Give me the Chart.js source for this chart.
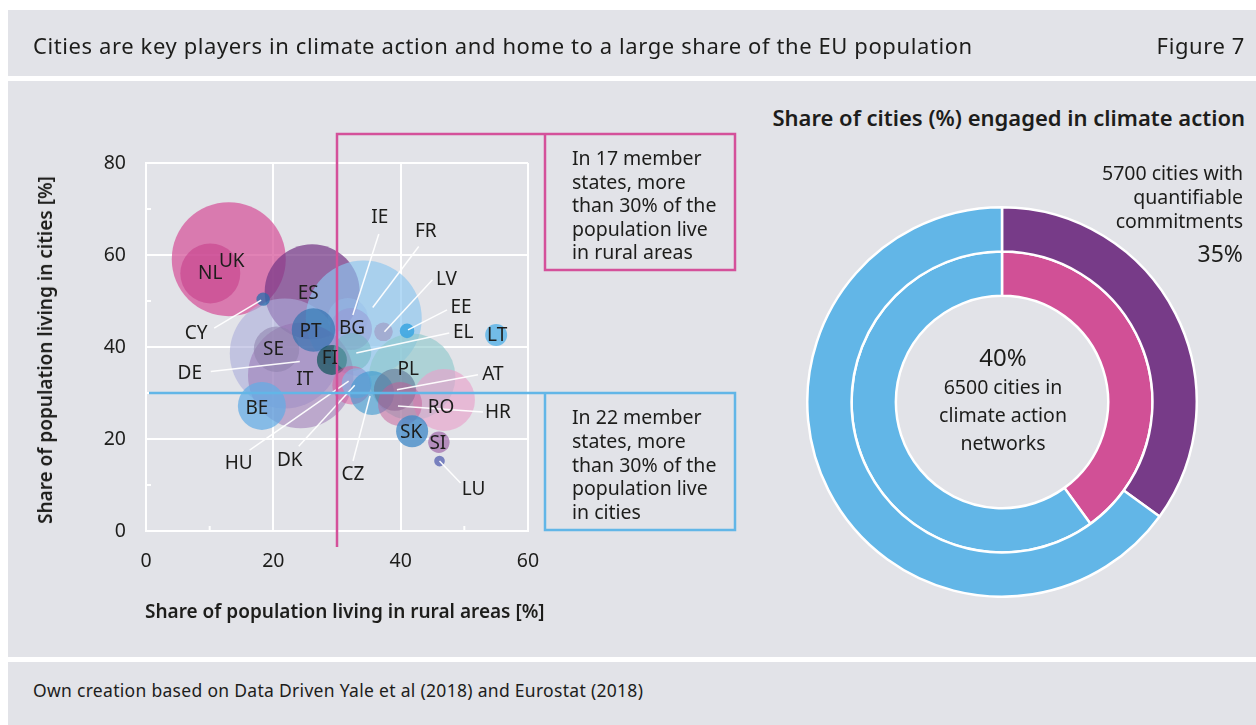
<!DOCTYPE html>
<html><head><meta charset="utf-8">
<script src="https://cdn.jsdelivr.net/npm/chart.js@4.4.1/dist/chart.umd.min.js"></script>
<style>
html,body{margin:0;padding:0;background:#fff;width:1256px;height:725px;overflow:hidden;font-family:"Noto Sans",sans-serif;color:#1d1d1b;}
.panel{position:absolute;background:#e2e3e8;}
.t{position:absolute;white-space:nowrap;}
canvas{position:absolute;}
</style></head><body>
<div class="panel" style="left:8px;top:10px;width:1248px;height:66px"></div>
<div class="panel" style="left:8px;top:81px;width:1248px;height:576px"></div>
<div class="panel" style="left:8px;top:662px;width:1248px;height:63px"></div>

<canvas id="bubble" width="760" height="660" style="left:0;top:0"></canvas>
<canvas id="donut" width="392" height="392" style="left:806px;top:206px"></canvas>

<div class="t" style="left:33px;top:30px;font-size:22px;line-height:30px;letter-spacing:0.6px">Cities are key players in climate action and home to a large share of the EU population</div>
<div class="t" style="right:11px;top:30px;font-size:22px;line-height:30px;letter-spacing:0.6px">Figure 7</div>
<div class="t" style="right:11px;top:102px;font-size:22px;line-height:30px;font-weight:600">Share of cities (%) engaged in climate action</div>
<div class="t" style="right:13px;top:161px;font-size:19.5px;line-height:24px;text-align:right">5700 cities with<br>quantifiable<br>commitments</div>
<div class="t" style="right:13px;top:238px;font-size:23px;line-height:30px">35%</div>

<div class="t" style="left:1003px;top:342px;transform:translateX(-50%);font-size:24px;line-height:30px;text-align:center">40%</div>
<div class="t" style="left:1003px;top:373px;transform:translateX(-50%);font-size:19.5px;line-height:28px;text-align:center">6500 cities in<br>climate action<br>networks</div>

<div class="t" style="left:572px;top:146px;font-size:19.5px;line-height:23.6px">In 17 member<br>states, more<br>than 30% of the<br>population live<br>in rural areas</div>
<div class="t" style="left:572px;top:405px;font-size:19.5px;line-height:23.8px">In 22 member<br>states, more<br>than 30% of the<br>population live<br>in cities</div>

<div class="t" style="left:145px;top:597px;font-size:19px;line-height:28px;font-weight:600">Share of population living in rural areas [%]</div>
<div class="t" style="left:45px;top:350px;transform:translate(-50%,-50%) rotate(-90deg);font-size:19px;line-height:28px;font-weight:600">Share of population living in cities [%]</div>

<div class="t" style="left:33px;top:678px;font-size:17.5px;line-height:24px;letter-spacing:0.3px">Own creation based on Data Driven Yale et al (2018) and Eurostat (2018)</div>

<script>
// ---- data ----
const countries   = ['UK','NL','ES','DE','FR','IT','PL','HR','IE','BG','SE','PT','BE','FI','EL','HU','DK','CZ','AT','RO','SK','SI','LV','EE','LT','CY','LU'];
const ruralShare  = [13.0,10.1,26.1,21.8,34.2,24.3,41.8,46.8,31.7,32.2,20.5,26.3,18.2,29.2,32.4,32.3,33.1,35.5,39.1,39.9,41.8,46.0,37.3,41.0,55.0,18.4,46.1];
const cityShare   = [59.1,56.0,52.0,38.6,46.2,33.8,33.5,28.5,46.3,43.9,39.5,43.7,27.2,37.2,38.9,31.7,32.1,30.0,30.7,27.6,21.7,19.3,43.3,43.5,42.6,50.4,15.2];
const bubbleSize  = [57,30,47.5,55,58,52.7,43.3,31,20,21,22.7,21.7,24,15,19,19.3,15,22,21,22,16,10.7,9.3,7.3,11,6.7,5.3];
const xTicks = [0,20,40,60];
const yTicks = [0,20,40,60,80];
const thresholdRural = 30;
const thresholdCity = 30;
const commitmentShare = [35,65];   // outer ring
const networkShare    = [40,60];   // inner ring

// ---- styles ----
const bubbleColors = {
  UK:'rgba(214,82,152,0.72)', NL:'rgba(196,58,136,0.55)', ES:'rgba(118,56,134,0.72)', DE:'rgba(172,174,218,0.6)',
  FR:'rgba(140,198,240,0.66)', IT:'rgba(150,110,176,0.5)', PL:'rgba(140,200,204,0.62)', HR:'rgba(232,160,202,0.62)',
  IE:'rgba(150,190,232,0.45)', BG:'rgba(150,150,212,0.5)', SE:'rgba(140,128,172,0.55)', PT:'rgba(38,110,172,0.62)',
  BE:'rgba(98,172,228,0.72)', FI:'rgba(26,86,96,0.75)', EL:'rgba(110,182,190,0.5)', HU:'rgba(222,82,152,0.5)',
  DK:'rgba(120,192,238,0.6)', CZ:'rgba(56,150,206,0.6)', AT:'rgba(96,118,150,0.62)', RO:'rgba(196,92,150,0.5)',
  SK:'rgba(66,138,200,0.78)', SI:'rgba(150,88,162,0.62)', LV:'rgba(160,160,200,0.75)', EE:'rgba(66,168,226,0.92)',
  LT:'rgba(98,182,231,0.88)', CY:'rgba(40,110,172,0.75)', LU:'rgba(100,110,182,0.85)'
};
// label placement relative to bubble centre (px): [dx,dy, leader x1,y1, x2,y2]
const labelLayout = {
  UK:[3,2], NL:[0,0], ES:[-4,2], DE:[-95,20,-74,18,15,8], FR:[62,-87,55,-72,9,-11], IT:[4,4], PL:[-4,-7],
  HR:[54,13,39,12,-46,6], IE:[32,-100,31,-84,5,-3], BG:[1,0], SE:[-3,0], PT:[-3,2], BE:[-5,3], FI:[-2,-1],
  EL:[111,-19,97,-19,4,1], HU:[-113,78,-102,65,-3,-4], DK:[-67,77,-58,63,-2,2], CZ:[-19,82,-19,68,-2,3],
  AT:[98,-15,83,-15,2,0], RO:[41,4], SK:[-1,1], SI:[-1,1], LV:[63,-52,49,-52,1,0], EE:[54,-23,40,-21,1,-1],
  LT:[1,1], CY:[-67,34,-49,29,-2,1], LU:[34,29,21,22,0,0]
};
const PINK='#d4519a', BLUE='#62b6e7', FONT='"Noto Sans", sans-serif';

const overlay = {
  id:'overlay',
  afterDatasetsDraw(chart){
    const {ctx, scales:{x,y}, chartArea:a} = chart;
    ctx.save();
    // minor tick stubs
    ctx.strokeStyle='#fff'; ctx.lineWidth=2;
    [10,30,50].forEach(v=>{const px=x.getPixelForValue(v);ctx.beginPath();ctx.moveTo(px,a.bottom);ctx.lineTo(px,a.bottom-5);ctx.stroke();});
    [10,30,50,70].forEach(v=>{const py=y.getPixelForValue(v);ctx.beginPath();ctx.moveTo(a.left,py);ctx.lineTo(a.left+5,py);ctx.stroke();});
    // leader lines
    const meta = chart.getDatasetMeta(0);
    ctx.strokeStyle='rgba(255,255,255,0.95)'; ctx.lineWidth=1.5;
    countries.forEach((c,i)=>{
      const L=labelLayout[c]; if(L.length<6) return;
      const p=meta.data[i];
      ctx.beginPath(); ctx.moveTo(p.x+L[2],p.y+L[3]); ctx.lineTo(p.x+L[4],p.y+L[5]); ctx.stroke();
    });
    // threshold lines + boxes
    const px30=x.getPixelForValue(thresholdRural), py30=y.getPixelForValue(thresholdCity);
    ctx.lineWidth=2.5; ctx.lineJoin='miter';
    ctx.strokeStyle=PINK; ctx.beginPath();
    ctx.moveTo(px30,547); ctx.lineTo(px30,134); ctx.lineTo(735,134); ctx.lineTo(735,270); ctx.lineTo(545,270); ctx.lineTo(545,134); ctx.stroke();
    ctx.strokeStyle=BLUE; ctx.beginPath();
    ctx.moveTo(a.left+3,py30); ctx.lineTo(735,py30); ctx.lineTo(735,530); ctx.lineTo(545,530); ctx.lineTo(545,py30); ctx.stroke();
    // labels
    ctx.fillStyle='#1d1d1b'; ctx.font='19px '+FONT; ctx.textAlign='center'; ctx.textBaseline='middle';
    countries.forEach((c,i)=>{
      const L=labelLayout[c], p=meta.data[i];
      ctx.fillText(c,p.x+L[0],p.y+L[1]);
    });
    ctx.restore();
  }
};

new Chart(document.getElementById('bubble'),{
  type:'bubble',
  data:{datasets:[{
    data: countries.map((c,i)=>({x:ruralShare[i], y:cityShare[i], r:bubbleSize[i]})),
    backgroundColor: countries.map(c=>bubbleColors[c]),
    borderWidth:0, hoverBorderWidth:0
  }]},
  options:{
    responsive:false, animation:false, devicePixelRatio:1,
    layout:{padding:{top:163,right:232,left:0,bottom:0}},
    plugins:{legend:{display:false},tooltip:{enabled:false}},
    scales:{
      x:{type:'linear',min:0,max:60,
        afterBuildTicks:s=>{s.ticks=xTicks.map(v=>({value:v}));},
        afterFit:s=>{s.height=129;},
        grid:{color:'#fff',lineWidth:2,drawTicks:false},
        border:{display:true,color:'#fff',width:2},
        ticks:{padding:19,color:'#1d1d1b',font:{family:FONT,size:19.5}}},
      y:{type:'linear',min:0,max:80,
        afterBuildTicks:s=>{s.ticks=yTicks.map(v=>({value:v}));},
        afterFit:s=>{s.width=146;},
        grid:{color:'#fff',lineWidth:2,drawTicks:false},
        border:{display:true,color:'#fff',width:2},
        ticks:{padding:20,color:'#1d1d1b',font:{family:FONT,size:19.5}}}
    }
  },
  plugins:[overlay]
});

new Chart(document.getElementById('donut'),{
  type:'doughnut',
  data:{labels:['share','rest'],datasets:[
    {data:commitmentShare, backgroundColor:['#773b88',BLUE], borderColor:'#fff', borderWidth:2.5},
    {data:networkShare, backgroundColor:['#d15096',BLUE], borderColor:'#fff', borderWidth:2.5}
  ]},
  options:{responsive:false, animation:false, devicePixelRatio:1, cutout:'54.5%',
    layout:{padding:0}, plugins:{legend:{display:false},tooltip:{enabled:false}}}
});
</script>
</body></html>
